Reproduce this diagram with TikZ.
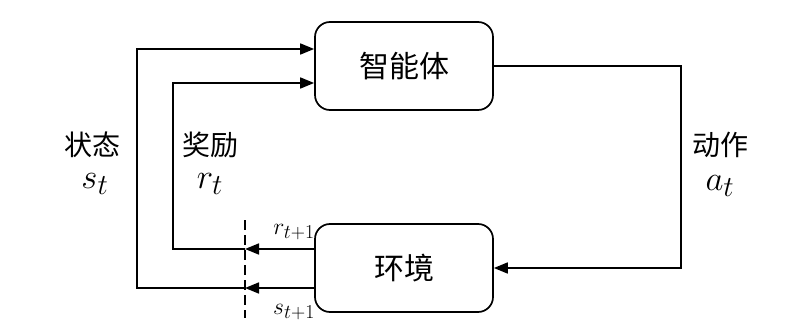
\documentclass[tikz,border=0pt]{standalone}
\usepackage{fontspec}
\newfontfamily\cjk{Noto Sans CJK SC}
\usetikzlibrary{arrows.meta}
\begin{document}
\begin{tikzpicture}[x=1pt,y=-1pt, line width=1.7pt,
  >={Triangle[length=14pt,width=11pt]},
  box/.style={draw, rounded corners=15pt, minimum width=178pt, minimum height=88pt, inner sep=0pt, font=\cjk\fontsize{30}{36}\selectfont},
  lab/.style={font=\cjk\fontsize{28}{34}\selectfont, inner sep=0pt},
  mlab/.style={font=\Huge, scale=1.4, inner sep=0pt},
  slab/.style={font=\Huge, scale=0.95, inner sep=0pt}]
\useasboundingbox (0,0) rectangle (806,326);
\node[box] (agent) at (404,66) {智能体};
\node[box] (env) at (404,268) {环境};
\coordinate (dtop) at (245,220);
\coordinate (dbot) at (245,318);
\draw[line width=1.3pt, dash pattern=on 10pt off 5pt] (dtop) -- (dbot);
\coordinate (sIn) at ([yshift=17pt]agent.west);
\coordinate (rIn) at ([yshift=-17pt]agent.west);
\coordinate (rOut) at ([yshift=19pt]env.west);
\coordinate (sOut) at ([yshift=-20pt]env.west);
\coordinate (rx) at (173,0);
\coordinate (sx) at (137,0);
\coordinate (ax) at (681,0);
\draw[->] (rOut) -- (dtop |- rOut);
\draw[->] (sOut) -- (dtop |- sOut);
\draw[->] (dtop |- rOut) -- (rx |- rOut) -- (rx |- rIn) -- (rIn);
\draw[->] (dtop |- sOut) -- (sx |- sOut) -- (sx |- sIn) -- (sIn);
\draw[->] (agent.east) -- (ax |- agent.east) -- (ax |- env.east) -- (env.east);
\node[lab] (ls) at (92,145) {状态};
\node[mlab] (ms) at (95,184) {$s_t$};
\node[lab] (lr) at (210,145) {奖励};
\node[mlab] (mr) at (210,184) {$r_t$};
\node[lab] (la) at (720,145) {动作};
\node[mlab] (ma) at (720,186) {$a_t$};
\node[slab] (mr1) at (294,232) {$r_{t+1}$};
\node[slab] (ms1) at (294,312) {$s_{t+1}$};
\end{tikzpicture}
\end{document}
